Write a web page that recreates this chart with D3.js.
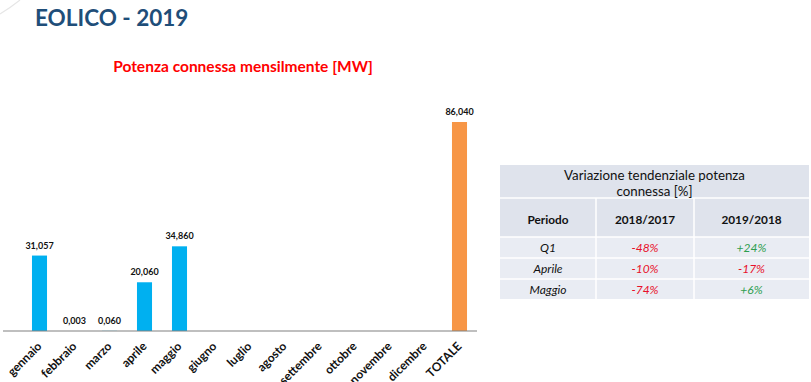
<!DOCTYPE html>
<html>
<head>
<meta charset="utf-8">
<script src="https://cdn.jsdelivr.net/npm/d3@7"></script>
<style>
  body { margin: 0; background: #fff; }
  svg { display: block; font-family: Lato, "Open Sans", sans-serif; }
</style>
</head>
<body>
<svg id="chart" width="811" height="382"></svg>
<script>
// monthly connected power [MW]
const months = ["gennaio", "febbraio", "marzo", "aprile", "maggio", "giugno", "luglio",
  "agosto", "settembre", "ottobre", "novembre", "dicembre", "TOTALE"];
const values = [31.057, 0.003, 0.060, 20.060, 34.860, null, null, null, null, null, null, null, 86.040];

// table
const tableTitle = ["Variazione tendenziale potenza", "connessa [%]"];
const tableCols = ["Periodo", "2018/2017", "2019/2018"];
const periods = ["Q1", "Aprile", "Maggio"];
const var1817 = ["-48%", "-10%", "-74%"];
const var1918 = ["+24%", "-17%", "+6%"];

const svg = d3.select("#chart");

// faint decoration top-left
svg.append("path")
  .attr("d", "M0,14 Q10,8 20,0")
  .attr("fill", "none").attr("stroke", "#e6e6e6").attr("stroke-width", 1.2);

svg.append("text")
  .attr("x", 35).attr("y", 26)
  .attr("fill", "#1f4e79").attr("font-weight", "bold").attr("font-size", 22.5)
  .text("EOLICO - 2019");

svg.append("text")
  .attr("x", 243).attr("y", 72)
  .attr("text-anchor", "middle")
  .attr("fill", "#ff0000").attr("font-weight", "bold").attr("font-size", 15.5)
  .text("Potenza connessa mensilmente [MW]");

const x = d3.scaleBand().domain(months).range([22, 477]).paddingInner(0.57).paddingOuter(0.285);
const y = d3.scaleLinear().domain([0, 86.04]).range([331, 122]);

const fmt = v => d3.format(".3f")(v).replace(".", ",");

svg.append("g").selectAll("rect")
  .data(months.map((m, i) => ({ m, v: values[i] })).filter(d => d.v !== null))
  .join("rect")
  .attr("x", d => x(d.m))
  .attr("width", x.bandwidth())
  .attr("y", d => y(d.v))
  .attr("height", d => y(0) - y(d.v))
  .attr("fill", d => d.m === "TOTALE" ? "#f79646" : "#00b0f0");

svg.append("g").selectAll("text")
  .data(months.map((m, i) => ({ m, v: values[i] })).filter(d => d.v !== null))
  .join("text")
  .attr("x", d => x(d.m) + x.bandwidth() / 2)
  .attr("y", d => y(d.v) - 7)
  .attr("text-anchor", "middle")
  .attr("font-size", 9).attr("font-weight", "bold").attr("fill", "#111")
  .text(d => fmt(d.v));

// axis
svg.append("line")
  .attr("x1", 3).attr("x2", 477)
  .attr("y1", y(0)).attr("y2", y(0))
  .attr("stroke", "#808080").attr("stroke-width", 1.2);

svg.append("g").selectAll("text")
  .data(months)
  .join("text")
  .attr("transform", d => `translate(${x(d) + x.bandwidth() / 2 + 3},${y(0) + 16}) rotate(-45)`)
  .attr("text-anchor", "end")
  .attr("font-size", 12).attr("font-weight", "bold").attr("fill", "#111")
  .text(d => d);

// table
const tx = [500, 596, 694, 809];
const ty = [165, 198, 237, 258, 279, 299];
const tbl = svg.append("g");

tbl.append("rect").attr("x", tx[0]).attr("y", ty[0]).attr("width", tx[3] - tx[0]).attr("height", ty[2] - ty[0])
  .attr("fill", "#dfe3ec");
tbl.append("rect").attr("x", tx[0]).attr("y", ty[2]).attr("width", tx[3] - tx[0]).attr("height", ty[5] - ty[2])
  .attr("fill", "#e9ecf3");

// white grid lines
[ty[1], ty[2], ty[3], ty[4]].forEach(yy => {
  tbl.append("line").attr("x1", tx[0]).attr("x2", tx[3]).attr("y1", yy).attr("y2", yy)
    .attr("stroke", "#fff").attr("stroke-width", 1.5);
});
[tx[1], tx[2]].forEach(xx => {
  tbl.append("line").attr("x1", xx).attr("x2", xx).attr("y1", ty[1]).attr("y2", ty[5])
    .attr("stroke", "#fff").attr("stroke-width", 1.5);
});

tbl.selectAll("text.title")
  .data(tableTitle)
  .join("text")
  .attr("x", (tx[0] + tx[3]) / 2)
  .attr("y", (d, i) => 180 + i * 16)
  .attr("text-anchor", "middle").attr("font-size", 13.3).attr("fill", "#111")
  .text(d => d);

tbl.selectAll("text.col")
  .data(tableCols)
  .join("text")
  .attr("x", (d, i) => (tx[i] + tx[i + 1]) / 2)
  .attr("y", 224)
  .attr("text-anchor", "middle").attr("font-size", 11.8).attr("font-weight", "bold").attr("fill", "#111")
  .text(d => d);

const colorOf = s => s.startsWith("+") ? "#2e9e4f" : "#e8102a";

periods.forEach((p, i) => {
  const yy = (ty[i + 2] + ty[i + 3]) / 2 + 4.5;
  tbl.append("text").attr("x", (tx[0] + tx[1]) / 2).attr("y", yy)
    .attr("text-anchor", "middle").attr("font-size", 12).attr("font-style", "italic").attr("fill", "#111")
    .text(p);
  tbl.append("text").attr("x", (tx[1] + tx[2]) / 2).attr("y", yy)
    .attr("text-anchor", "middle").attr("font-size", 12).attr("font-style", "italic").attr("fill", colorOf(var1817[i]))
    .text(var1817[i]);
  tbl.append("text").attr("x", (tx[2] + tx[3]) / 2).attr("y", yy)
    .attr("text-anchor", "middle").attr("font-size", 12).attr("font-style", "italic").attr("fill", colorOf(var1918[i]))
    .text(var1918[i]);
});
</script>
</body>
</html>
